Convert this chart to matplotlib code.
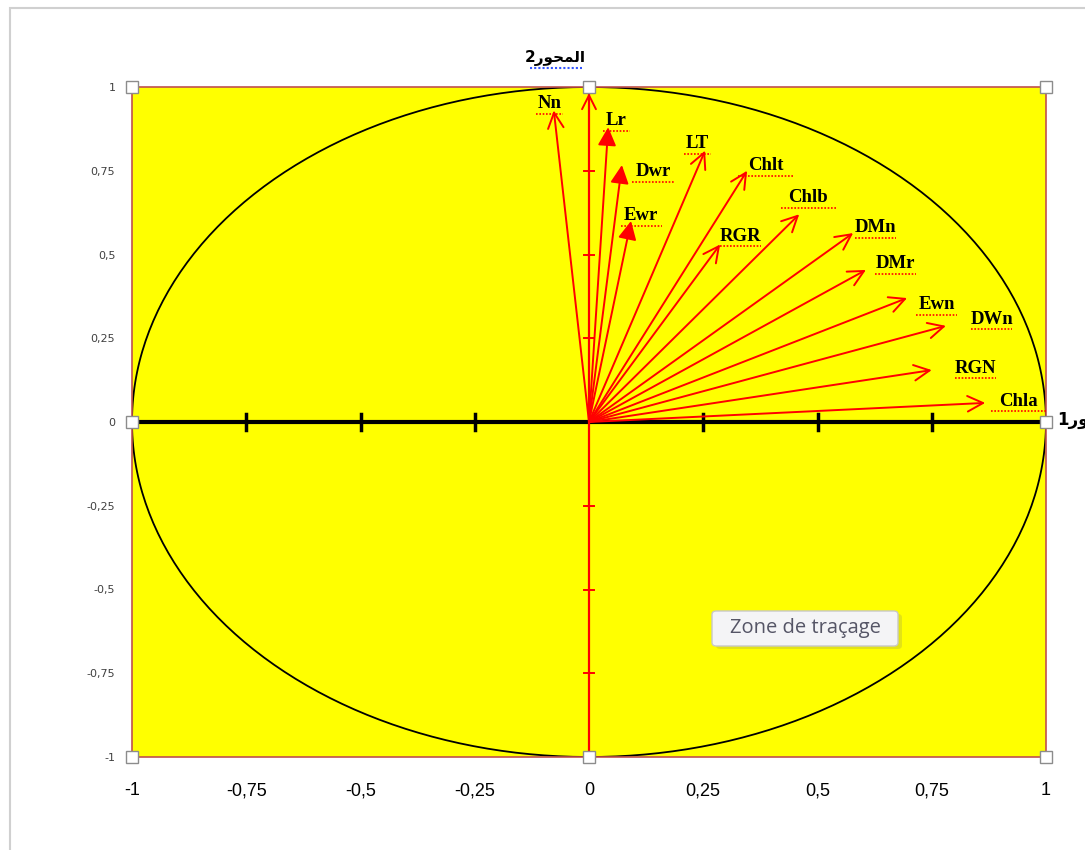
import matplotlib
matplotlib.use("Agg")
import matplotlib.pyplot as plt
import numpy as np
from matplotlib.patches import Rectangle, FancyBboxPatch

# variable loadings on the two axes
names = ["Nn", "Lr", "Dwr", "Ewr", "LT", "Chlt", "Chlb", "RGR",
         "DMn", "DMr", "Ewn", "DWn", "RGN", "Chla"]
ax1 = [-0.077, 0.042, 0.072, 0.092, 0.254, 0.346, 0.460, 0.287,
       0.578, 0.606, 0.696, 0.781, 0.750, 0.867]
ax2 = [0.930, 0.880, 0.767, 0.600, 0.810, 0.750, 0.620, 0.530,
       0.564, 0.454, 0.370, 0.287, 0.155, 0.057]
filled = ["Lr", "Dwr", "Ewr"]
# label offsets (in data units) from the arrow tips
lab_dx = [-0.01, 0.018, 0.068, 0.022, -0.016, 0.04, 0.02, 0.045,
          0.048, 0.065, 0.065, 0.1, 0.095, 0.072]
lab_dy = [0.02, 0.02, -0.02, 0.015, 0.02, 0.015, 0.05, 0.024,
          0.016, 0.018, -0.02, 0.02, 0.005, 0.005]

ticks = [-1, -0.75, -0.5, -0.25, 0, 0.25, 0.5, 0.75, 1]
tick_labels = ["-1", "-0,75", "-0,5", "-0,25", "0", "0,25", "0,5", "0,75", "1"]

fig = plt.figure(figsize=(10.85, 8.5), dpi=100)
ax = fig.add_axes([132 / 1085, 93 / 850, 914 / 1085, 670 / 850])
ax.set_facecolor("#FFFF00")
ax.set_xlim(-1, 1)
ax.set_ylim(-1, 1)
for s in ax.spines.values():
    s.set_color("#C0504D")
    s.set_linewidth(1.2)

ax.set_xticks(ticks)
ax.set_xticklabels(tick_labels, fontsize=13, family="Liberation Sans")
ax.set_yticks(ticks)
ax.set_yticklabels(tick_labels, fontsize=8, color="#404040")
ax.tick_params(axis="x", length=0, pad=18)
ax.tick_params(axis="y", length=0, pad=12)

# correlation circle
t = np.linspace(0, 2 * np.pi, 400)
ax.plot(np.cos(t), np.sin(t), color="black", lw=1.3, zorder=2)

# axes through origin
ax.plot([-1, 1], [0, 0], color="black", lw=3, zorder=3)
ax.plot([0, 0], [-1, 1], color="red", lw=1.6, zorder=3)
for v in [-0.75, -0.5, -0.25, 0.25, 0.5, 0.75]:
    ax.plot([v, v], [-0.025, 0.025], color="black", lw=2.5, zorder=3)
    ax.plot([-0.012, 0.012], [v, v], color="red", lw=1.4, zorder=3)
ax.annotate("", xy=(0, 0.99), xytext=(0, 0.9),
            arrowprops=dict(arrowstyle="->", color="red", lw=1.4,
                            mutation_scale=25), zorder=4)

# variable arrows
for n, x, y, dx, dy in zip(names, ax1, ax2, lab_dx, lab_dy):
    style = "-|>" if n in filled else "->"
    ax.annotate("", xy=(x, y), xytext=(0, 0),
                arrowprops=dict(arrowstyle=style, color="red", lw=1.4,
                                mutation_scale=28, shrinkA=0, shrinkB=0),
                zorder=5)
    ax.text(x + dx, y + dy, n, fontsize=13.5, fontweight="bold",
            family="Liberation Serif", ha="center", va="center", zorder=6)
    ax.plot([x + dx - 0.03 * len(n) / 2, x + dx + 0.03 * len(n) / 2],
            [y + dy - 0.03, y + dy - 0.03], color="red", lw=1.2,
            ls=(0, (1, 1)), zorder=6)

# selection handles of the plot area
hx = [-1, 0, 1, -1, 1, -1, 0, 1]
hy = [1, 1, 1, 0, 0, -1, -1, -1]
ax.plot(hx, hy, "s", ms=8, mfc="white", mec="#8C8C8C", mew=1,
        clip_on=False, zorder=10)

# axis titles (Arabic, shaped forms in visual order)
fig.text(555 / 1085, 1 - 58 / 850, "2ﺭﻮﺤﻤﻟﺍ", fontsize=11, fontweight="bold",
         family="DejaVu Sans", ha="center", va="center")
fig.lines.append(plt.Line2D([530 / 1085, 582 / 1085], [1 - 68 / 850] * 2,
                            color="#3355FF", lw=1.5, ls=(0, (1, 1)),
                            transform=fig.transFigure))
fig.text(1057 / 1085, 1 - 420 / 850, "1ﺭﻮﺤﻤﻟﺍ", fontsize=12, fontweight="bold",
         family="DejaVu Sans", ha="left", va="center")

# tooltip with soft shadow
fig.patches.append(FancyBboxPatch((716 / 1085, 1 - 649 / 850), 186 / 1085, 35 / 850,
                                  boxstyle="round,pad=0,rounding_size=0.004",
                                  transform=fig.transFigure, fc="#B0B040",
                                  ec="none", alpha=0.35, zorder=19))
fig.patches.append(FancyBboxPatch((712 / 1085, 1 - 646 / 850), 186 / 1085, 35 / 850,
                                  boxstyle="round,pad=0,rounding_size=0.004",
                                  transform=fig.transFigure, fc="#F4F4F6",
                                  ec="#C8C8C8", lw=1, zorder=20))
fig.text(805 / 1085, 1 - 628 / 850, "Zone de traçage", fontsize=14.5,
         color="#555566", family="Open Sans", ha="center", va="center", zorder=21)

# chart area border
fig.patches.append(Rectangle((10 / 1085, -0.1), 1.2, 1 - 8 / 850 + 0.1,
                             transform=fig.transFigure, fill=False,
                             ec="#D0D0D0", lw=1.5))

fig.savefig("out.png", dpi=100)
